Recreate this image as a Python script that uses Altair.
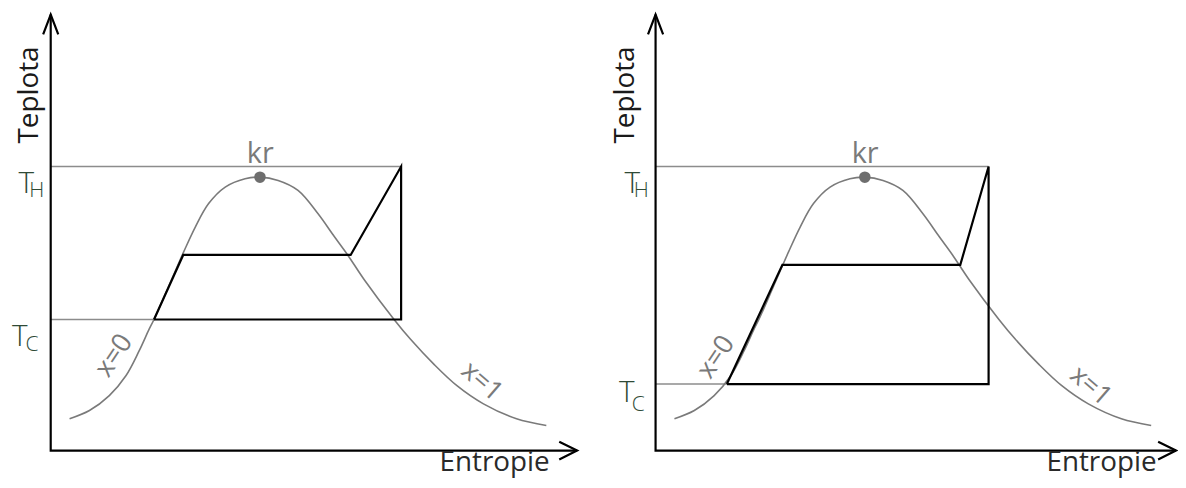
import altair as alt
import pandas as pd

# ---- saturation dome (same in both diagrams): entropy s, temperature t ----
dome_s = [19.0, 39.0, 59.0, 75.7, 89.0, 99.0, 104.0, 119.0, 134.0, 145.7, 159.0, 175.7, 195.7,
          210.7, 229.0, 249.0, 269.0, 285.7, 299.0, 315.7, 345.7, 362.3, 385.7, 409.0, 435.7,
          469.0, 499.0]
dome_t = [32.0, 40.3, 55.3, 75.3, 100.3, 122.0, 132.0, 166.0, 200.3, 225.3, 248.7, 265.3, 273.7,
          275.3, 272.0, 262.0, 238.7, 215.3, 197.0, 172.0, 132.0, 112.0, 87.0, 65.3, 47.0,
          32.0, 25.3]
crit_s = [210.7]
crit_t = [275.3]

# ---- cycles (closed polylines) ----
cycle_a_s = [104.0, 133.4, 302.0, 352.8, 352.8, 104.0]
cycle_a_t = [132.0, 197.0, 197.0, 286.0, 132.0, 132.0]
cycle_b_s = [71.8, 127.7, 306.8, 335.3, 335.3, 71.8]
cycle_b_t = [67.0, 187.0, 187.0, 286.0, 67.0, 67.0]

t_hot = [286.0, 286.0]
t_cold = [132.0, 67.0]

labels_axis = ["Teplota", "Entropie"]
labels_iso = ["x=0", "x=1"]
label_crit = "kr"

T_LO, T_HI = -28, 444
FONT = "Open Sans"


def panel(cs, ct, th, tc, width, s_lo, s_hi, teplota_s, x0_pos, x1_pos, ent_s,
          tlab, arrow_tip):
    xs = alt.X("s:Q", scale=alt.Scale(domain=[s_lo, s_hi], nice=False, zero=False), axis=None)
    ys = alt.Y("t:Q", scale=alt.Scale(domain=[T_LO, T_HI], nice=False, zero=False), axis=None)

    guides = pd.DataFrame({
        "seg": ["h", "h", "c", "c"],
        "ord": [0, 1, 0, 1],
        "s": [0.0, cs[3], 0.0, cs[0]],
        "t": [th, th, tc, tc],
    })
    g = alt.Chart(guides).mark_line(color="#8c8c8c", strokeWidth=1.6).encode(
        x=xs, y=ys, detail="seg:N", order="ord:Q")

    dome = pd.DataFrame({"s": dome_s, "t": dome_t})
    d = alt.Chart(dome).mark_line(color="#7a7a7a", strokeWidth=1.6,
                                  interpolate="catmull-rom").encode(x=xs, y=ys)

    cyc = pd.DataFrame({"s": cs, "t": ct, "ord": list(range(len(cs)))})
    c = alt.Chart(cyc).mark_line(color="black", strokeWidth=2.2,
                                 strokeJoin="miter").encode(x=xs, y=ys, order="ord:Q")

    axes = pd.DataFrame({
        "seg": ["ax"] * 3 + ["ya"] * 3 + ["xa"] * 3,
        "ord": [0, 1, 2] * 3,
        "s": [0, 0, arrow_tip, -7.6, 0, 7.6, arrow_tip - 18, arrow_tip, arrow_tip - 18],
        "t": [439, 0, 0, 419, 439, 419, 9, 0, -9],
    })
    a = alt.Chart(axes).mark_line(color="black", strokeWidth=2.2, clip=True).encode(
        x=xs, y=ys, detail="seg:N", order="ord:Q")

    crit = pd.DataFrame({"s": crit_s, "t": crit_t})
    p = alt.Chart(crit).mark_circle(size=135, color="#6e6e6e", opacity=1).encode(x=xs, y=ys)

    kr = pd.DataFrame({"s": [211.0], "t": [290.0], "txt": [label_crit]})
    k = alt.Chart(kr).mark_text(font=FONT, fontSize=29, color="#7a7a7a",
                                baseline="alphabetic").encode(x=xs, y=ys, text="txt:N")

    x0 = pd.DataFrame({"s": [x0_pos[0]], "t": [x0_pos[1]], "txt": [labels_iso[0]]})
    t0 = alt.Chart(x0).mark_text(font=FONT, fontSize=27, color="#7a7a7a", angle=304,
                                 baseline="middle").encode(x=xs, y=ys, text="txt:N")
    x1 = pd.DataFrame({"s": [x1_pos[0]], "t": [x1_pos[1]], "txt": [labels_iso[1]]})
    t1 = alt.Chart(x1).mark_text(font=FONT, fontSize=27, color="#7a7a7a", angle=41,
                                 baseline="middle").encode(x=xs, y=ys, text="txt:N")

    bigT = pd.DataFrame({"s": [tlab[0][0], tlab[1][0]], "t": [tlab[0][1], tlab[1][1]],
                         "txt": ["T", "T"]})
    tb = alt.Chart(bigT).mark_text(font=FONT, fontSize=30, fontWeight=300, color="#2f4a36",
                                   baseline="alphabetic").encode(x=xs, y=ys, text="txt:N")
    subs = pd.DataFrame({"s": [tlab[0][2], tlab[1][2]], "t": [tlab[0][3], tlab[1][3]],
                         "txt": ["H", "C"]})
    ts = alt.Chart(subs).mark_text(font=FONT, fontSize=21, fontWeight=300, color="#2f4a36",
                                   align="left", baseline="alphabetic").encode(
        x=xs, y=ys, text="txt:N")

    tep = pd.DataFrame({"s": [teplota_s], "t": [358.0], "txt": [labels_axis[0]]})
    tp = alt.Chart(tep).mark_text(font=FONT, fontSize=28, color="#1a1a1a", angle=270,
                                  baseline="middle").encode(x=xs, y=ys, text="txt:N")
    ent = pd.DataFrame({"s": [ent_s], "t": [-21.0], "txt": [labels_axis[1]]})
    en = alt.Chart(ent).mark_text(font=FONT, fontSize=28, color="#2a2a2a", clip=True,
                                  baseline="alphabetic").encode(x=xs, y=ys, text="txt:N")

    return alt.layer(g, d, c, a, p, k, t0, t1, tb, ts, tp, en).properties(
        width=width, height=472)


left = panel(cycle_a_s, cycle_a_t, t_hot[0], t_cold[0], 604, -43, 561,
             -20.5, (64, 95.5), (434, 69.5), 447,
             [(-24.5, 259, -21.5, 255), (-31, 105, -25.5, 100)], 530)
right = panel(cycle_b_s, cycle_b_t, t_hot[1], t_cold[1], 574, -48, 526,
              -30.0, (61, 94), (438, 65), 449,
              [(-23.5, 259, -22, 255), (-29, 49, -24, 40)], 524)

chart = alt.hconcat(left, right, spacing=0).properties(padding=0).configure_view(stroke=None)
chart.save("out.html", embed_options={"renderer": "svg", "actions": False})
